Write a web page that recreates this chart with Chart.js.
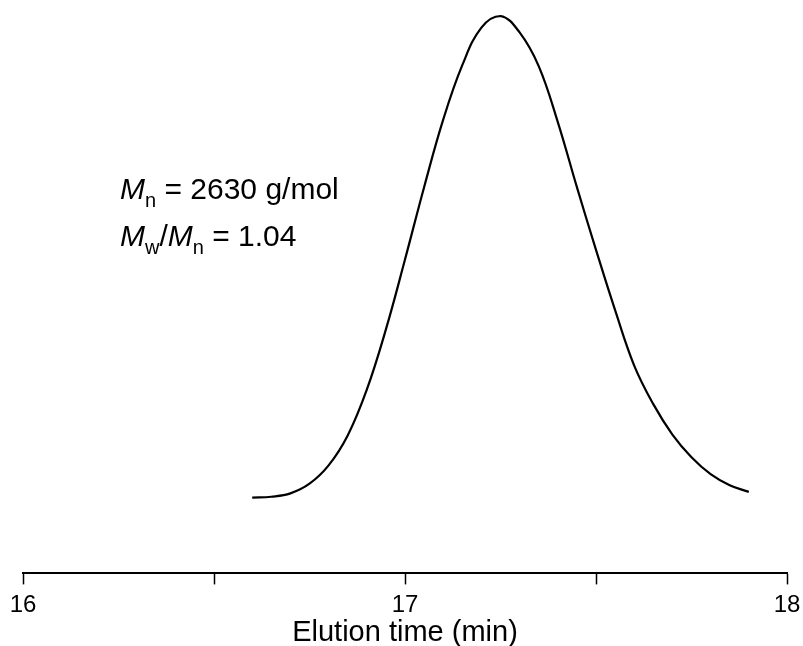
<!DOCTYPE html>
<html>
<head>
<meta charset="utf-8">
<script src="https://cdn.jsdelivr.net/npm/chart.js@4.4.0/dist/chart.umd.min.js"></script>
<style>
  html, body { margin: 0; padding: 0; background: #fff; }
  #wrap { width: 803px; height: 646px; }
</style>
</head>
<body>
<div id="wrap"><canvas id="gpc"></canvas></div>
<script>
// elution time (min) and detector signal (normalised, peak = 100)
const times = [16.60, 16.65, 16.70, 16.75, 16.80, 16.85, 16.90, 16.95, 17.00, 17.05,
               17.10, 17.15, 17.20, 17.25, 17.30, 17.35, 17.40, 17.45, 17.50, 17.55,
               17.60, 17.65, 17.70, 17.75, 17.80, 17.85, 17.90];
const signal = [0.1, 0.3, 1.0, 3.0, 6.8, 13.0, 22.5, 35.0, 49.5, 64.5,
                78.5, 89.8, 97.6, 100, 96.6, 89.6, 78.0, 64.5, 51.5, 39.0,
                27.5, 19.5, 13.2, 8.5, 5.0, 2.7, 1.3];
const xTicks = [16, 17, 18];

const font = "'Liberation Sans', Arial, sans-serif";

// Mn / Mw/Mn label with italic M and subscripts
const labelPlugin = {
    id: 'mnLabel',
    afterDraw(chart) {
        const c = chart.ctx;
        c.save();
        c.fillStyle = '#000';
        c.textBaseline = 'alphabetic';
        function part(txt, x, y, style) {
            if (style == 'i') c.font = 'italic 30px ' + font;
            else if (style == 's') c.font = '20px ' + font;
            else c.font = '30px ' + font;
            c.fillText(txt, x, y);
            return x + c.measureText(txt).width;
        }
        let x = 120, y = 199;
        x = part('M', x, y, 'i');
        x = part('n', x, y + 8, 's');
        part(' = 2630 g/mol', x, y, '');

        x = 120; y = 246;
        x = part('M', x, y, 'i');
        x = part('w', x, y + 8, 's');
        x = part('/', x, y, '');
        x = part('M', x, y, 'i');
        x = part('n', x, y + 8, 's');
        part(' = 1.04', x, y, '');
        c.restore();
    }
};

const ctx = document.getElementById('gpc').getContext('2d');
const chart = new Chart(ctx, {
    type: 'line',
    data: {
        datasets: [{
            data: times.map((t, i) => ({ x: t, y: signal[i] })),
            borderColor: '#000',
            borderWidth: 2.2,
            pointRadius: 0,
            fill: false,
            tension: 0.4,
            clip: false
        }]
    },
    options: {
        responsive: true,
        maintainAspectRatio: false,
        animation: false,
        layout: { padding: { top: 16, left: 23, right: 16, bottom: 0 } },
        plugins: { legend: { display: false }, tooltip: { enabled: false } },
        scales: {
            x: {
                type: 'linear',
                min: 16,
                max: 18,
                // labels at the ends may hang over the edge, like the original
                afterFit: s => { s.paddingLeft = 0; s.paddingRight = 0; },
                border: { display: true, color: '#000', width: 2 },
                grid: {
                    drawOnChartArea: false,
                    drawTicks: true,
                    tickLength: 11,
                    tickColor: '#000',
                    tickWidth: 1.5
                },
                ticks: {
                    stepSize: 0.5,
                    autoSkip: false,
                    maxRotation: 0,
                    padding: 7,
                    color: '#000',
                    font: { family: font, size: 24 },
                    callback: v => xTicks.includes(v) ? String(v) : ''
                },
                title: {
                    display: true,
                    text: 'Elution time (min)',
                    color: '#000',
                    font: { family: font, size: 29 },
                    padding: { top: -12, bottom: -4 }
                }
            },
            y: {
                display: false,
                min: -15.6,
                max: 100
            }
        }
    },
    plugins: [labelPlugin]
});
</script>
</body>
</html>
